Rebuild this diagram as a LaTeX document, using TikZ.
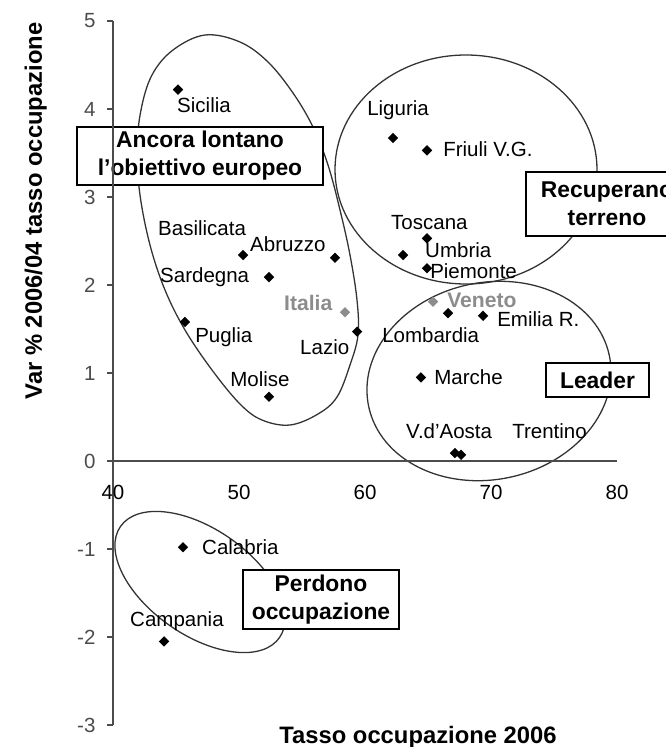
\documentclass[tikz,border=0pt]{standalone}
\usepackage{fontspec}
\setmainfont{Liberation Sans}
\usetikzlibrary{shapes.geometric, positioning}

\begin{document}
\begin{tikzpicture}[x=0.03cm, y=-0.03cm,
    pt/.style={diamond, fill=black, inner sep=0pt, minimum size=9pt},
    ptgray/.style={pt, fill=black!45},
    lbl/.style={inner sep=0pt, anchor=base west, font=\fontsize{17.5}{20}\selectfont},
    lblgray/.style={lbl, text=black!45, font=\fontsize{18}{20}\selectfont\bfseries},
    box/.style={draw, line width=1.3pt, fill=white, align=center, font=\fontsize{19.5}{24}\selectfont\bfseries},
    ell/.style={line width=1.1pt, black!80},
    axis/.style={line width=1.2pt, black!70},
    tick/.style={inner sep=0pt, font=\fontsize{17.5}{20}\selectfont},
    title/.style={inner sep=0pt, anchor=base, font=\fontsize{20.3}{24}\selectfont\bfseries}]
                \useasboundingbox (0,0) rectangle (666,747);
                \clip (0,0) rectangle (666,747);

                % Groups
                \draw[ell] plot[smooth cycle, tension=0.6] coordinates {(205,35) (240,42) (268,62) (293,93) (313,127) (328,165) (340,210) (350,255) (357,300) (358,335) (350,365) (337,397) (318,414) (290,425) (262,420) (240,404) (212,370) (185,330) (165,290) (150,245) (140,195) (137,150) (141,110) (152,75) (173,50)};
                \draw[ell] (466,169.5) ellipse [x radius=131, y radius=114.5];
                \draw[ell, rotate around={12:(489,381)}] (489,381) ellipse [x radius=123, y radius=98.5];
                \draw[ell, rotate around={-35:(200,582)}] (200,582) ellipse [x radius=97, y radius=53];

                \node[box, minimum width=7.38cm, minimum height=1.74cm] (Anc) at (200,156) {Ancora lontano\\l'obiettivo europeo};
                \node[box, minimum width=4.86cm, minimum height=1.92cm] (Rec) at (607,204) {Recuperano\\terreno};
                \node[box, minimum width=3.09cm, minimum height=1.02cm] (Lea) at (597.5,380) {Leader};
                \node[box, minimum width=4.68cm, minimum height=1.77cm] (Per) at (321,599.5) {Perdono\\occupazione};

                % Axis titles
                \node[title] (xt) at (418,743) {Tasso occupazione 2006};
                \node[title, rotate=90] (yt) at (42,211) {Var \% 2006/04 tasso occupazione};

                \begin{scope}[shift={(113,461)}, x=0.378cm, y=2.64cm, shift={(-40,0)}]
                % Axes and ticks
                \draw[axis] (40,-3) -- (40,5);
                \draw[axis] (40,0) -- (80,0);
                \draw[axis] (40,5) -- ++(-5pt,0) node[tick, left=9.4pt] (y5) {5};
                \draw[axis] (40,4) -- ++(-5pt,0) node[tick, left=9.4pt] (y4) {4};
                \draw[axis] (40,3) -- ++(-5pt,0) node[tick, left=9.4pt] (y3) {3};
                \draw[axis] (40,2) -- ++(-5pt,0) node[tick, left=9.4pt] (y2) {2};
                \draw[axis] (40,1) -- ++(-5pt,0) node[tick, left=9.4pt] (y1) {1};
                \draw[axis] (40,0) -- ++(-5pt,0) node[tick, left=9.4pt] (y0) {0};
                \draw[axis] (40,-1) -- ++(-5pt,0) node[tick, left=9.4pt] (ym1) {-1};
                \draw[axis] (40,-2) -- ++(-5pt,0) node[tick, left=9.4pt] (ym2) {-2};
                \draw[axis] (40,-3) -- ++(-5pt,0) node[tick, left=9.4pt] (ym3) {-3};
                \node[tick, anchor=base] (x40) at (40,-0.443) {40};
                \node[tick, anchor=base] (x50) at (50,-0.443) {50};
                \node[tick, anchor=base] (x60) at (60,-0.443) {60};
                \node[tick, anchor=base] (x70) at (70,-0.443) {70};
                \node[tick, anchor=base] (x80) at (80,-0.443) {80};

                % Regions
                \node[pt] (Sic) at (45.16,4.22) {};
                \node[lbl] (SicT) at (45.08,3.955) {Sicilia};
                \node[pt] (Lig) at (62.22,3.67) {};
                \node[lbl] (LigT) at (60.16,3.93) {Liguria};
                \node[pt] (Fri) at (64.92,3.53) {};
                \node[lbl] (FriT) at (66.19,3.455) {Friuli V.G.};
                \node[pt] (Tos) at (64.92,2.53) {};
                \node[lbl] (TosT) at (62.06,2.625) {Toscana};
                \node[pt] (Umb) at (63.02,2.34) {};
                \node[lbl] (UmbT) at (64.76,2.31) {Umbria};
                \node[pt] (Pie) at (64.92,2.19) {};
                \node[lbl] (PieT) at (65.16,2.07) {Piemonte};
                \node[ptgray] (Ven) at (65.40,1.81) {};
                \node[lblgray] (VenT) at (66.51,1.75) {Veneto};
                \node[pt] (Lom) at (66.59,1.68) {};
                \node[lbl] (LomT) at (61.35,1.341) {Lombardia};
                \node[pt] (Emi) at (69.37,1.65) {};
                \node[lbl] (EmiT) at (70.48,1.523) {Emilia R.};
                \node[pt] (Mar) at (64.44,0.95) {};
                \node[lbl] (MarT) at (65.48,0.864) {Marche};
                \node[pt] (Vda) at (67.14,0.09) {};
                \node[lbl] (VdaT) at (63.25,0.261) {V.d'Aosta};
                \node[pt] (Tre) at (67.62,0.07) {};
                \node[lbl] (TreT) at (71.67,0.261) {Trentino};
                \node[pt] (Abr) at (57.62,2.31) {};
                \node[lbl] (AbrT) at (50.87,2.375) {Abruzzo};
                \node[pt] (Bas) at (50.32,2.34) {};
                \node[lbl] (BasT) at (43.57,2.557) {Basilicata};
                \node[pt] (Sar) at (52.38,2.09) {};
                \node[lbl] (SarT) at (43.73,2.034) {Sardegna};
                \node[ptgray] (Ita) at (58.41,1.69) {};
                \node[lblgray] (ItaT) at (53.57,1.705) {Italia};
                \node[pt] (Pug) at (45.71,1.58) {};
                \node[lbl] (PugT) at (46.51,1.352) {Puglia};
                \node[pt] (Laz) at (59.37,1.47) {};
                \node[lbl] (LazT) at (54.84,1.205) {Lazio};
                \node[pt] (Mol) at (52.38,0.73) {};
                \node[lbl] (MolT) at (49.29,0.841) {Molise};
                \node[pt] (Cal) at (45.56,-0.98) {};
                \node[lbl] (CalT) at (47.06,-1.068) {Calabria};
                \node[pt] (Cam) at (44.05,-2.05) {};
                \node[lbl] (CamT) at (41.35,-1.886) {Campania};
                \end{scope}
            \end{tikzpicture}
\end{document}
